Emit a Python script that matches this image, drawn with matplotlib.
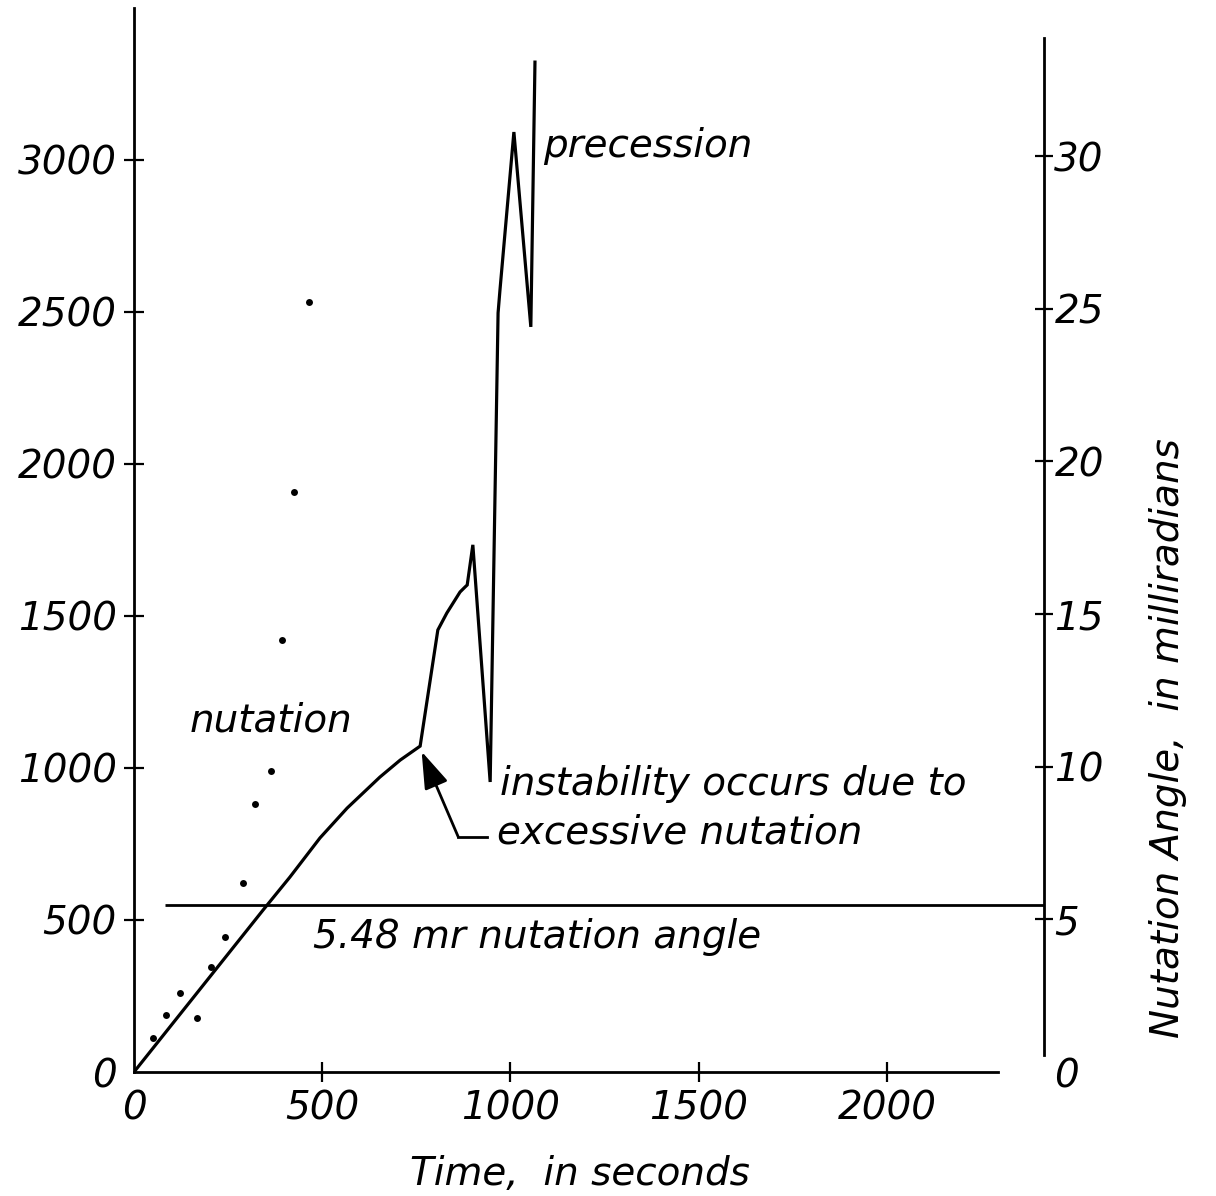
import matplotlib
matplotlib.use("Agg")
import matplotlib.pyplot as plt

# Response trace (left scale) versus time in seconds
time_s = [0, 343, 414, 494, 566, 653, 707, 760, 807, 831, 866, 879, 885,
          900, 946, 967, 972, 1009, 1054, 1065]
response = [0, 533, 641, 770, 868, 970, 1026, 1072, 1454, 1510, 1579, 1595,
            1602, 1734, 954, 2497, 2572, 3092, 2451, 3322]

# Scattered nutation readings (left scale)
dot_time = [50, 85, 122, 167, 204, 242, 290, 321, 364, 393, 425, 465]
dot_value = [112, 188, 260, 178, 345, 444, 622, 882, 990, 1421, 1908, 2533]

# Nutation threshold, milliradians (right scale)
nutation_limit_mr = 5.48

x_ticks = [0, 500, 1000, 1500, 2000]
x_tick_labels = ["0", "500", "1000", "1500", "2000"]
left_ticks = [0, 500, 1000, 1500, 2000, 2500, 3000]
left_tick_labels = ["0", "500", "1000", "1500", "2000", "2500", "3000"]
right_ticks = [0, 5, 10, 15, 20, 25, 30]
right_tick_labels = ["0", "5", "10", "15", "20", "25", "30"]

plt.rcParams["font.family"] = ["DejaVu Sans"]
plt.rcParams["font.style"] = "italic"

W, H = 1216, 1196
FS = 28
LW = 2.0

fig = plt.figure(figsize=(W / 100, H / 100), dpi=100)
ax = fig.add_axes([134 / W, 1 - 1072 / H, (1044 - 134) / W, (1072 - 8) / H])
ax.set_xlim(0, 2417)
ax.set_ylim(0, 3500)

ax2 = ax.twinx()
ax2.set_ylim(0, 34.85)

# spines
for s in ("top", "right"):
    ax.spines[s].set_visible(False)
for s in ("top", "left", "bottom"):
    ax2.spines[s].set_visible(False)
ax.spines["left"].set_linewidth(LW)
ax.spines["bottom"].set_linewidth(LW)
ax.spines["bottom"].set_bounds(0, 2295)
ax2.spines["right"].set_linewidth(LW)
ax2.spines["right"].set_bounds(0.56, 33.87)

# ticks
ax.set_xticks(x_ticks)
ax.set_xticklabels(x_tick_labels)
ax.set_yticks(left_ticks)
ax.set_yticklabels(left_tick_labels)
ax2.set_yticks(right_ticks)
ax2.set_yticklabels(right_tick_labels)
ax.tick_params(axis="both", direction="inout", length=15, width=1.6,
               labelsize=FS, pad=5)
ax2.tick_params(axis="y", direction="inout", length=13, width=1.6,
                labelsize=FS, pad=1)
ax.xaxis.get_major_ticks()[0].tick1line.set_visible(False)
ax.yaxis.get_major_ticks()[0].tick1line.set_visible(False)
ax2.yaxis.get_major_ticks()[0].tick2line.set_visible(False)

# data
ax.plot(time_s, response, color="black", lw=2.3, solid_joinstyle="miter",
        zorder=3)
ax.plot(dot_time, dot_value, "o", ms=5, color="black", mec="none")
ax2.hlines(nutation_limit_mr, 82, 2417, color="black", lw=2.0)

# arrow pointing at onset of instability
ax.plot([861, 937], [774, 774], color="black", lw=2.0)
ax.annotate("", xy=(764, 1054), xytext=(861, 774),
            arrowprops=dict(arrowstyle="-|>,head_length=0.6,head_width=0.2",
                            mutation_scale=38, lw=2.0, color="black",
                            shrinkA=0, shrinkB=0))


def px(x, y):
    return x / W, 1 - y / H


fig.text(*px(543, 157), "precession", fontsize=FS, va="baseline")
fig.text(*px(190, 731), "nutation", fontsize=FS, va="baseline")
fig.text(*px(500, 795), "instability occurs due to", fontsize=FS,
         va="baseline")
fig.text(*px(497, 843), "excessive nutation", fontsize=FS, va="baseline")
fig.text(*px(313, 948), "5.48 mr nutation angle", fontsize=FS,
         va="baseline")
fig.text(*px(410, 1185), "Time,  in seconds", fontsize=FS, va="baseline")
fig.text(*px(1168, 738), "Nutation Angle,  in milliradians", fontsize=FS,
         rotation=90, ha="center", va="center")

fig.savefig("out.png", dpi=100, facecolor="white")
